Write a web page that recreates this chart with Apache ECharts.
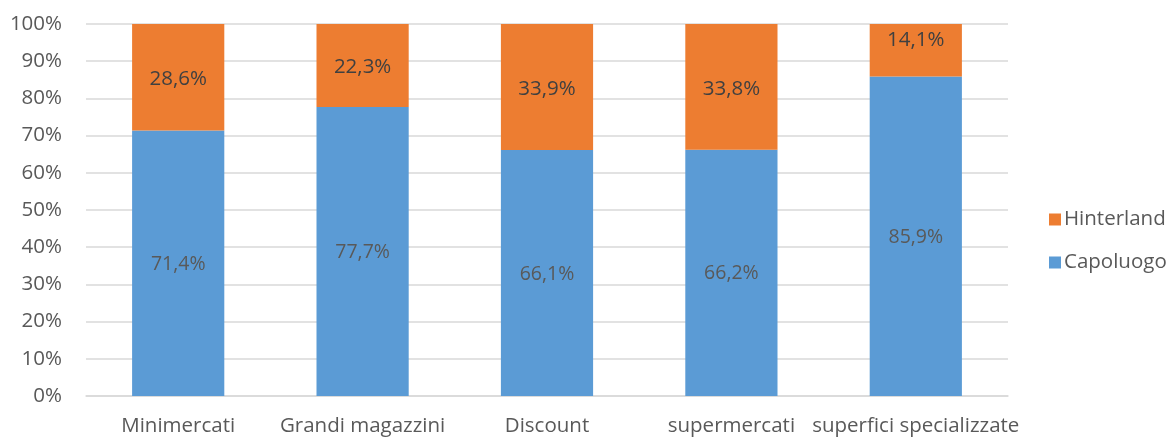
<!DOCTYPE html>
<html><head><meta charset="utf-8">
<script src="https://cdn.jsdelivr.net/npm/echarts@6/dist/echarts.min.js"></script>
<style>html,body{margin:0;padding:0;background:#fff}#c{width:1170px;height:437px}</style>
</head><body><div id="c"></div>
<script>
const categories = ['Minimercati', 'Grandi magazzini', 'Discount', 'supermercati', 'superfici specializzate'];
const capoluogo = [71.4, 77.7, 66.1, 66.2, 85.9];
const hinterland = [28.6, 22.3, 33.9, 33.8, 14.1];
const fmt = v => v.toFixed(1).replace('.', ',') + '%';
const font = 'Open Sans';
const chart = echarts.init(document.getElementById('c'));
chart.setOption({
  animation: false,
  textStyle: { fontFamily: font },
  grid: { left: 86, right: 162, top: 24, bottom: 41, containLabel: false },
  legend: {
    orient: 'vertical', left: 1044, top: 204, itemWidth: 12, itemHeight: 12, itemGap: 22,
    icon: 'rect',
    data: ['Hinterland', 'Capoluogo'],
    textStyle: { fontSize: 20.5, color: '#595959', fontFamily: font, padding: [0, 0, 0, -2] }
  },
  xAxis: {
    type: 'category', data: categories,
    axisLine: { lineStyle: { color: '#d9d9d9', width: 1.5 } },
    axisTick: { show: false },
    axisLabel: { fontSize: 20.5, color: '#595959', margin: 20, interval: 0 }
  },
  yAxis: {
    type: 'value', min: 0, max: 100, interval: 10,
    axisLabel: { formatter: '{value}%', fontSize: 20.5, color: '#595959', margin: 24 },
    splitLine: { lineStyle: { color: '#d9d9d9', width: 1.5 } },
    axisLine: { show: false }, axisTick: { show: false }
  },
  series: [
    {
      name: 'Capoluogo', type: 'bar', stack: 't', barWidth: '50%',
      data: capoluogo,
      itemStyle: { color: '#5b9bd5' },
      label: { show: true, position: 'inside', formatter: p => fmt(p.value), fontSize: 19.5, color: '#595959', fontFamily: font, offset: [0, 1] }
    },
    {
      name: 'Hinterland', type: 'bar', stack: 't', barWidth: '50%',
      data: hinterland.map(v => v < 20 ? { value: v, label: { offset: [0, -10] } } : v),
      itemStyle: { color: '#ed7d31' },
      label: { show: true, position: 'inside', formatter: p => fmt(p.value), fontSize: 20.5, color: '#404040', fontFamily: font, offset: [0, 2] }
    }
  ]
});
</script></body></html>
